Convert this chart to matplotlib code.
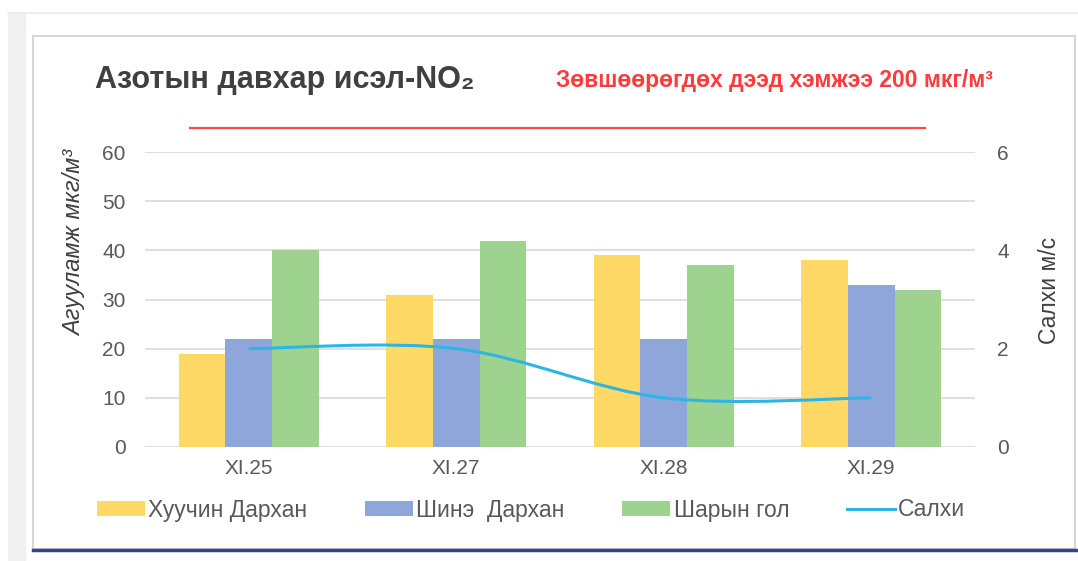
import numpy as np
import matplotlib.pyplot as plt
from matplotlib.path import Path
from matplotlib.patches import PathPatch, Rectangle
from matplotlib.lines import Line2D

### data
days      = ['XI.25', 'XI.27', 'XI.28', 'XI.29']
old_dh    = [19, 31, 39, 38]   # Хуучин Дархан
new_dh    = [22, 22, 22, 33]   # Шинэ Дархан
sharyn    = [40, 42, 37, 32]   # Шарын гол
wind      = [2.0, 2.0, 1.0, 1.0]  # Салхи, м/с
names     = ['Хуучин Дархан', 'Шинэ  Дархан', 'Шарын гол', 'Салхи']
yticks_l  = [0, 10, 20, 30, 40, 50, 60]
yticks_r  = [0, 2, 4, 6]

### style
plt.rcParams['font.family'] = ['Liberation Sans', 'DejaVu Sans']
ccolors = ['#FFD966', '#8EA6D9', '#9DD28F']
wcolor  = '#2CB5E6'
tcol    = '#595959'
W, H    = 1078, 561

def fx(px): return px / W
def fy(py): return 1 - py / H

fig = plt.figure(figsize=(W/100, H/100), dpi=100)

# frame decoration of the screenshot
fig.patches.append(Rectangle((fx(8), 0), fx(25)-fx(8), fy(13), transform=fig.transFigure, color='#F1F1F1', zorder=0))
fig.lines.append(Line2D([fx(8), 1], [fy(13), fy(13)], transform=fig.transFigure, color='#EAEAEA', lw=1.2))
fig.patches.append(Rectangle((fx(33), fy(549)), fx(1075)-fx(33), fy(36)-fy(549), transform=fig.transFigure,
                             fill=False, edgecolor='#D6D6D6', lw=1.5))
fig.lines.append(Line2D([fx(33), 1], [fy(550), fy(550)], transform=fig.transFigure, color='#37457E', lw=2.5))

ax1 = fig.add_axes([fx(145), fy(447), fx(975)-fx(145), fy(152)-fy(447)])
ax2 = ax1.twinx()

x  = np.arange(len(days))
bw = 0.225
b1 = ax1.bar(x - bw, old_dh, bw, color=ccolors[0], zorder=2)
b2 = ax1.bar(x,      new_dh, bw, color=ccolors[1], zorder=2)
b3 = ax1.bar(x + bw, sharyn, bw, color=ccolors[2], zorder=2)

ax1.set_ylim(0, 60)
ax1.set_yticks(yticks_l)
ax1.set_xlim(-0.5, len(days) - 0.5)
ax1.set_xticks(x)
ax1.set_xticklabels(days)
ax1.grid(axis='y', color='#D9D9D9', lw=1.2, zorder=0)
ax1.set_axisbelow(True)
for s in ax1.spines.values(): s.set_visible(False)
for s in ax2.spines.values(): s.set_visible(False)
ax1.tick_params(axis='both', length=0, labelsize=15, colors=tcol)
ax1.tick_params(axis='y', pad=14)
ax1.tick_params(axis='x', pad=9)

# smoothed wind line (catmull-rom -> bezier, like excel smoothing)
wy = np.array(wind, dtype=float)
pts = np.column_stack([x, wy])
verts = [tuple(pts[0])]
codes = [Path.MOVETO]
n = len(pts)
for i in range(n - 1):
    p0 = pts[max(i - 1, 0)]
    p1 = pts[i]
    p2 = pts[i + 1]
    p3 = pts[min(i + 2, n - 1)]
    c1 = p1 + (p2 - p0) / 6
    c2 = p2 - (p3 - p1) / 6
    verts += [tuple(c1), tuple(c2), tuple(p2)]
    codes += [Path.CURVE4] * 3
ax2.add_patch(PathPatch(Path(verts, codes), fill=False, edgecolor=wcolor, lw=2.2, zorder=3))
ax2.set_ylim(0, 6)
ax2.set_yticks(yticks_r)
ax2.tick_params(axis='y', length=0, labelsize=15, colors=tcol, pad=16)
ax1.set_zorder(1); ax1.patch.set_visible(False)
ax2.set_zorder(2)

# titles and axis labels
fig.text(fx(95), fy(80), 'Азотын давхар исэл-NO₂', fontsize=22, fontweight='bold', color='#404040', va='center')
fig.text(fx(556), fy(80), 'Зөвшөөрөгдөх дээд хэмжээ 200 мкг/м³', fontsize=16.5, fontweight='bold', color='#FF3B3B', va='center')
fig.lines.append(Line2D([fx(190), fx(925)], [fy(128), fy(128)], transform=fig.transFigure, color='#FF4A4A', lw=1.6))
fig.text(fx(75), fy(243), 'Агууламж мкг/м³', rotation=90, fontsize=17, style='italic', color='#404040', ha='center', va='center')
fig.text(fx(1050), fy(290), 'Салхи м/с', rotation=90, fontsize=16.5, color='#404040', ha='center', va='center')

# legend
wline = Line2D([], [], color=wcolor, lw=2.2)
leg = fig.legend([b1, b2, b3, wline], names, ncol=4, loc='center', bbox_to_anchor=(fx(531), fy(510)),
                 frameon=False, fontsize=16.5, labelcolor=tcol, handlelength=2.1, handleheight=0.6,
                 handletextpad=0.15, columnspacing=2.5)

fig.savefig('out.png', dpi=100)
